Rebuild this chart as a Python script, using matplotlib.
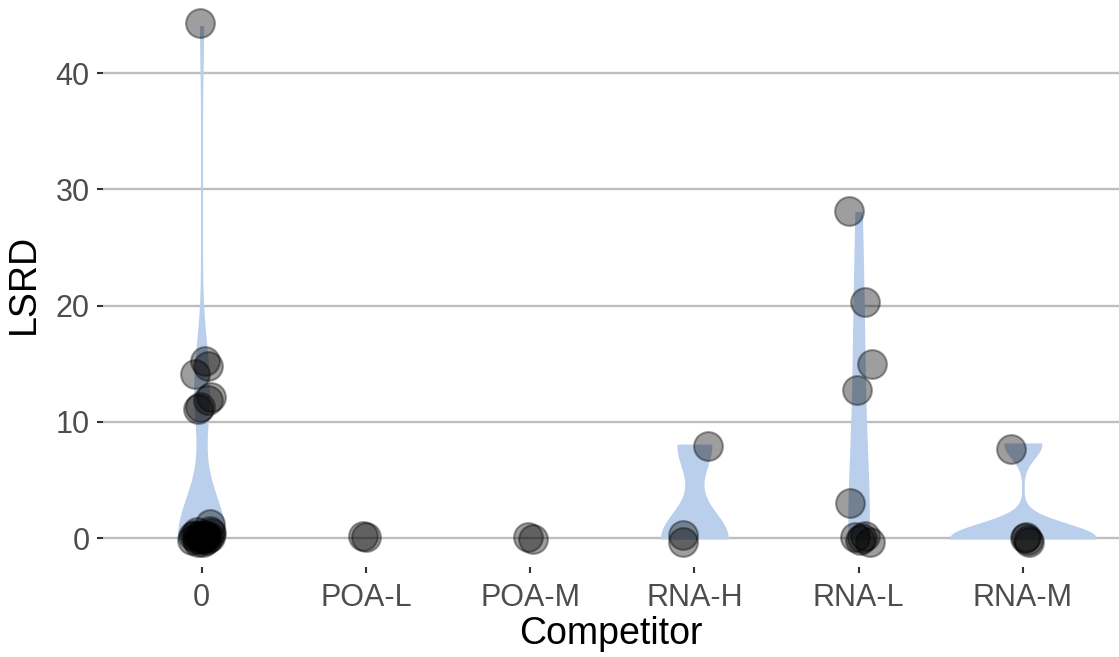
import numpy as np
import matplotlib
matplotlib.use("Agg")
import matplotlib.pyplot as plt

# categories on the x axis
categories = ["0", "POA-L", "POA-M", "RNA-H", "RNA-L", "RNA-M"]

# long format data: group, LSRD value, jitter offsets
competitor = (["0"] * 29 + ["POA-L"] * 2 + ["POA-M"] * 2 + ["RNA-H"] * 3
              + ["RNA-L"] * 10 + ["RNA-M"] * 5)
lsrd = ([44.0, 15.1, 14.7, 14.1, 12.0, 11.9, 11.3, 11.1, 1.2,
         0.6, 0.4, 0.3, 0.2, 0.2, 0.1, 0.1, 0.1, 0.0, 0.0, 0.0,
         0.0, 0.0, 0.0, 0.0, 0.0, 0.0, 0.0, 0.0, 0.0]
        + [0.1, 0.1]
        + [0.05, 0.05]
        + [8.0, 0.0, 0.0]
        + [28.0, 20.3, 15.0, 12.7, 3.0, 0.0, 0.0, 0.0, 0.0, 0.0]
        + [8.1, 0.0, 0.0, 0.0, 0.0])
jit_x = ([-0.01, 0.02, 0.04, -0.04, 0.06, 0.04, -0.01, -0.02, 0.05,
          0.05, -0.03, 0.02, 0.06, -0.05, 0.0, 0.03, -0.02, -0.06, -0.04,
          -0.02, 0.0, 0.01, 0.02, 0.03, 0.04, 0.05, -0.03, -0.01, 0.01]
         + [-0.02, 0.0]
         + [-0.01, 0.02]
         + [0.08, -0.07, -0.07]
         + [-0.06, 0.04, 0.08, -0.01, -0.05, -0.02, 0.01, 0.04, 0.07, 0.02]
         + [-0.07, 0.01, 0.03, 0.04, 0.02])
jit_y = ([0.3, 0.1, 0.1, 0.0, 0.1, 0.0, 0.0, 0.0, 0.0,
          0.0, 0.1, -0.2, 0.2, 0.0, -0.1, 0.2, 0.1, -0.2, 0.3,
          -0.3, 0.1, -0.1, 0.2, -0.2, 0.0, 0.1, -0.1, 0.2, -0.3]
         + [0.1, -0.05]
         + [0.05, -0.1]
         + [-0.1, 0.3, -0.3]
         + [0.1, 0.0, 0.0, 0.0, 0.0, 0.1, -0.2, 0.2, -0.3, 0.0]
         + [-0.4, 0.0, -0.2, -0.3, 0.1])

# kde smoothing per violin
bandwidth = {"0": 3.4, "POA-L": 1.0, "POA-M": 1.0, "RNA-H": 2.2,
             "RNA-L": 7.0, "RNA-M": 1.2}

competitor = np.array(competitor)
lsrd = np.array(lsrd)
jit_x = np.array(jit_x)
jit_y = np.array(jit_y)
pos = {c: i for i, c in enumerate(categories)}

plt.rcParams['font.family'] = ['Liberation Sans', 'DejaVu Sans']

fig = plt.figure(figsize=(11.19, 6.57), dpi=100)
ax = fig.add_axes([103 / 1119, 90 / 657, 1016 / 1119, 567 / 657])


def kde(v, bw, grid):
    d = (grid[:, None] - v[None, :]) / bw
    return np.exp(-0.5 * d ** 2).sum(axis=1) / (len(v) * bw * np.sqrt(2 * np.pi))


# compute densities, area scaling (global max -> half width 0.45)
dens = {}
for c in categories:
    v = lsrd[competitor == c]
    if len(v) < 2 or np.ptp(v) == 0:
        continue
    grid = np.linspace(v.min(), v.max(), 512)
    dens[c] = (grid, kde(v, bandwidth[c], grid))
dmax = max(d.max() for g, d in dens.values())

for c, (grid, d) in dens.items():
    w = 0.44 * d / dmax
    ax.fill_betweenx(grid, pos[c] - w, pos[c] + w, facecolor='#bacfec',
                     edgecolor='#bacfec', linewidth=1.4, joinstyle='round',
                     zorder=2)

xs = np.array([pos[c] for c in competitor]) + jit_x
ax.scatter(xs, lsrd + jit_y, s=430, c='black', alpha=0.38,
           edgecolors='black', linewidths=1.5, zorder=3)

ax.set_xlim(-0.6, 5.585)
ax.set_ylim(-2.49, 46.28)
ax.set_xticks(range(len(categories)))
ax.set_xticklabels(categories)
ax.set_yticks([0, 10, 20, 30, 40])
ax.grid(axis='y', color='#bebebe', linewidth=1.7, zorder=1)
ax.grid(axis='x', visible=False)
ax.set_axisbelow(True)
for s in ax.spines.values():
    s.set_visible(False)
ax.tick_params(axis='both', colors='#333333', labelcolor='#4d4d4d',
               labelsize=22, length=4.5, width=1.5)
ax.tick_params(axis='y', pad=5)
ax.tick_params(axis='x', pad=7)
ax.set_xlabel("Competitor", fontsize=27, labelpad=2)
ax.set_ylabel("LSRD", fontsize=27, labelpad=10)

fig.savefig("out.png", dpi=100)
